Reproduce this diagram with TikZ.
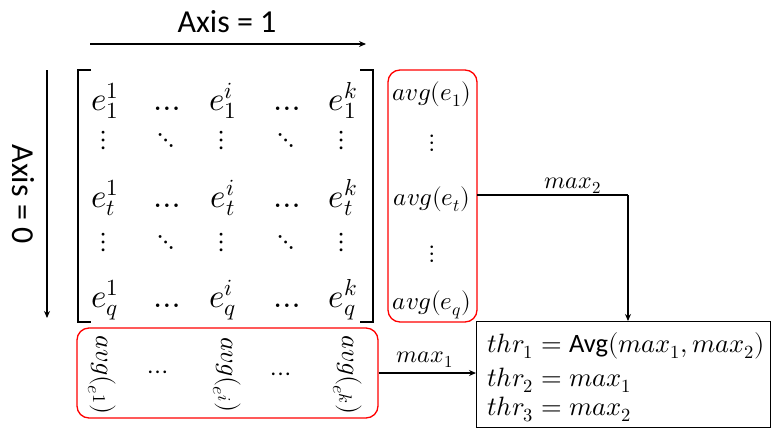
\documentclass[tikz,border=0pt]{standalone}
\usepackage{unicode-math}
\setmathfont{Latin Modern Math}
\newfontfamily\calib{Carlito}
\usetikzlibrary{arrows.meta}

\tikzset{
  arr/.style={line width=1.6pt, -{Stealth[length=7pt,width=6pt]}},
  plainline/.style={line width=1.6pt},
  brk/.style={line width=1.8pt},
  redbox/.style={draw=red, line width=1.3pt, rounded corners=12pt, inner sep=0},
  axislbl/.style={font=\calib\fontsize{32}{38}\selectfont, inner sep=0},
  ent/.style={font=\fontsize{33}{38}\selectfont, anchor=base, inner sep=0},
  dotsent/.style={font=\fontsize{28}{32}\selectfont, inner sep=0},
  avgtxt/.style={font=\fontsize{25}{30}\selectfont, inner sep=0},
  cavgtxt/.style={font=\fontsize{26}{30}\selectfont, inner sep=0, rotate=-90},
  maxlbl/.style={font=\fontsize{24}{28}\selectfont, inner sep=0},
  thrtxt/.style={font=\fontsize{26.5}{30}\selectfont, anchor=base west, inner sep=0},
}

\begin{document}
\begin{tikzpicture}[x=1pt,y=-1pt]
\useasboundingbox (0,0) rectangle (772,429);

% axis arrows and their labels
\node[axislbl, anchor=base] (ax1) at (227,32) {Axis = 1};
\coordinate (ax1s) at (90,44);
\coordinate (ax1e) at (366,44);
\draw[arr] (ax1s) -- (ax1e);

\node[axislbl, rotate=-90] (ax0) at (23,194) {Axis = 0};
\coordinate (ax0s) at (47,70);
\coordinate (ax0e) at (47,318);
\draw[arr] (ax0s) -- (ax0e);

% matrix brackets
\draw[brk] (91,70) -- (78,70) -- (78,322) -- (91,322);
\draw[brk] (360,70) -- (373,70) -- (373,322) -- (360,322);

% matrix entries
\foreach \r/\y in {1/110, t/207, q/307}{
  \node[ent] (e\r a) at (105,\y) {$e_{\r}^{1}$};
  \node[ent] (e\r b) at (167,\y) {$\ldots$};
  \node[ent] (e\r c) at (223,\y) {$e_{\r}^{i}$};
  \node[ent] (e\r d) at (287,\y) {$\ldots$};
  \node[ent] (e\r e) at (343,\y) {$e_{\r}^{k}$};
}
\foreach \n/\y in {u/140, v/242}{
  \node[dotsent] (v\n a) at (104,\y) {$\vdots$};
  \node[dotsent] (v\n b) at (166,\y) {$\ddots$};
  \node[dotsent] (v\n c) at (222,\y) {$\vdots$};
  \node[dotsent] (v\n d) at (286,\y) {$\ddots$};
  \node[dotsent] (v\n e) at (342,\y) {$\vdots$};
}

% row averages
\node[redbox, minimum width=89, minimum height=252] (colbox) at (432.5,196) {};
\node[avgtxt, anchor=base] (avg1) at (432,100) {$avg(e_1)$};
\node[avgtxt] (avgd1) at (432,143) {$\vdots$};
\node[avgtxt, anchor=base] (avgt) at (432,205) {$avg(e_t)$};
\node[avgtxt] (avgd2) at (432,254) {$\vdots$};
\node[avgtxt, anchor=base] (avgq) at (432,309) {$avg(e_q)$};

% column averages
\node[redbox, minimum width=301, minimum height=90] (rowbox) at (227.5,373) {};
\node[cavgtxt] (cavg1) at (102,375) {$avg(_{e^{\scriptstyle 1}})$};
\node[cavgtxt] (cdot1) at (158,372) {$\vdots$};
\node[cavgtxt] (cavgi) at (227,375) {$avg(_{e^{\scriptstyle i}})$};
\node[cavgtxt] (cdot2) at (281,374) {$\vdots$};
\node[cavgtxt] (cavgk) at (348,375) {$avg(_{e^{\scriptstyle k}})$};

% thresholds
\node[draw, line width=1pt, minimum width=294, minimum height=106, anchor=north west, inner sep=0] (thr) at (476,321) {};
\node[thrtxt] (thr1) at (487,352) {$thr_1 = \mbox{\calib Avg}(max_1, max_2)$};
\node[thrtxt] (thr2) at (487,386) {$thr_2 = max_1$};
\node[thrtxt] (thr3) at (487,415) {$thr_3 = max_2$};

% connectors
\coordinate (m2turn) at (628,195);
\draw[plainline] (avgt.east |- m2turn) ++(7,0) -- (m2turn);
\draw[arr] (m2turn) -- (m2turn |- thr.north);
\node[maxlbl, anchor=base] (max2) at (573,188) {$max_2$};

\draw[arr] (rowbox.east) -- (rowbox.east -| thr.west);
\node[maxlbl, anchor=base] (max1) at (425,362) {$max_1$};
\end{tikzpicture}
\end{document}
